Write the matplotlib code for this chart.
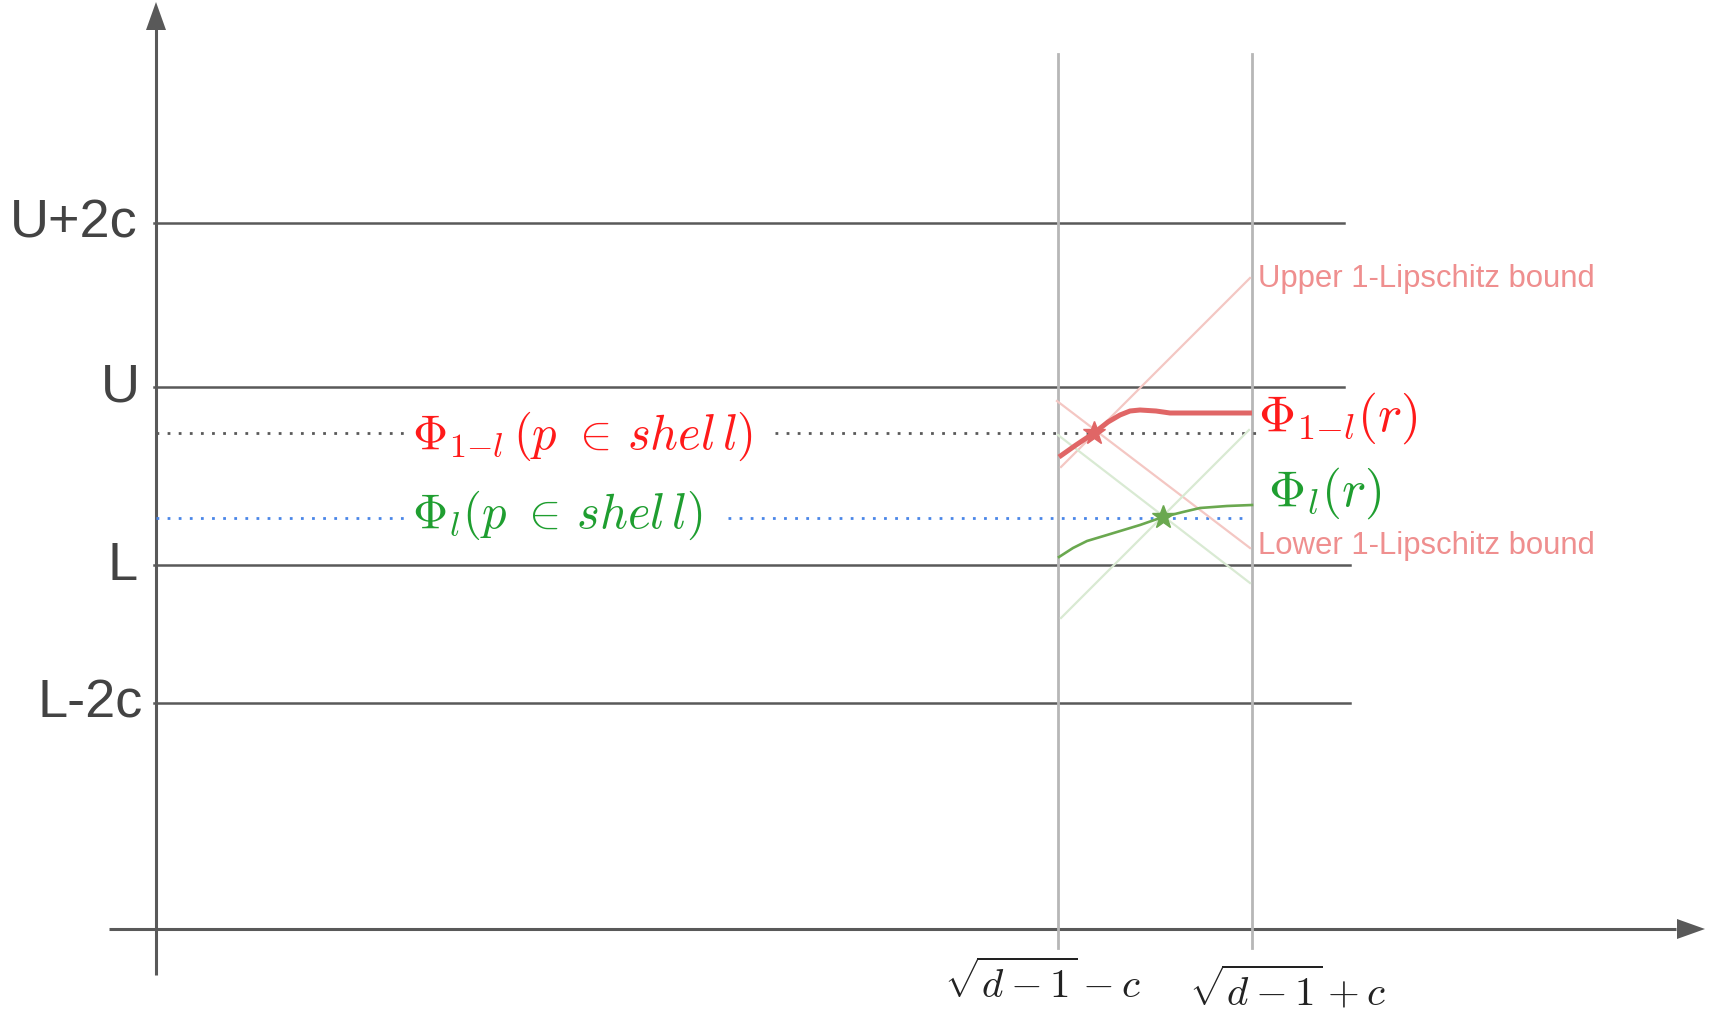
"""
Sketch of the shell-level bounds: Phi_{1-l}(r) and Phi_l(r) squeezed between
1-Lipschitz bounds on [sqrt(d-1)-c, sqrt(d-1)+c].
"""
import matplotlib.pyplot as plt
import numpy as np

# --- data (diagram units: origin at the axes crossing) ---
LEVEL_NAMES = ["U+2c", "U", "L", "L-2c"]
LEVEL_VALUES = [7.06, 5.42, 3.64, 2.26]
LEVEL_ENDS = [11.88, 11.88, 11.94, 11.94]

R_LO, R_HI = 9.02, 10.96          # sqrt(d-1) -/+ c
R_LABELS = [r"$\sqrt{d-1}-c$", r"$\sqrt{d-1}+c$"]

PHI_HI_SHELL = 4.96               # Phi_{1-l}(p in shell)
PHI_LO_SHELL = 4.11               # Phi_l(p in shell)

red_r = [9.03, 9.20, 9.38, 9.52, 9.64, 9.74, 9.84, 10.00, 10.14, 10.96]
red_phi = [4.72, 4.84, 4.96, 5.07, 5.14, 5.18, 5.19, 5.18, 5.16, 5.16]

green_r = [9.03, 9.17, 9.31, 9.51, 9.84, 10.07, 10.27, 10.44, 10.71, 10.96]
green_phi = [3.72, 3.81, 3.88, 3.94, 4.04, 4.12, 4.17, 4.21, 4.23, 4.24]

# 1-Lipschitz bound segments through the star points
red_upper = ([9.05, 10.94], [4.62, 6.51])
red_lower = ([9.01, 10.94], [5.28, 3.81])
green_down = ([9.02, 10.94], [4.94, 3.46])
green_up = ([9.05, 10.93], [3.11, 4.99])

red_star = (9.38, 4.96)
green_star = (10.07, 4.12)

AXIS = "#595959"
TXT = "#434343"
RED_TXT = "#ff1a1a"
GREEN_TXT = "#1f9e30"

plt.rcParams["mathtext.fontset"] = "cm"
fig = plt.figure(figsize=(17.12, 10.10), dpi=100)
ax = fig.add_axes([0, 0, 1, 1])
ax.set_xlim(-1.56, 15.56)
ax.set_ylim(-0.81, 9.29)
ax.axis("off")

# axes with arrow heads
ax.plot([0, 0], [-0.46, 9.0], color=AXIS, lw=2.2, solid_capstyle="butt")
ax.plot([-0.47, 15.2], [0, 0], color=AXIS, lw=2.2, solid_capstyle="butt")
ax.fill([-0.10, 0.10, 0], [8.99, 8.99, 9.27], color=AXIS, lw=0)
ax.fill([15.21, 15.21, 15.49], [0.10, -0.10, 0], color=AXIS, lw=0)

# level lines + labels
for name, v, end, lx in zip(LEVEL_NAMES, LEVEL_VALUES, LEVEL_ENDS,
                            [-0.19, -0.16, -0.18, -0.13]):
    ax.plot([-0.02, end], [v, v], color=AXIS, lw=1.8)
    ax.text(lx, v - 0.01, name, ha="right", va="center", fontsize=39,
            color=TXT, family="Liberation Sans")

# vertical r lines + tick labels
for r, lab, cx, cy in zip([R_LO, R_HI], R_LABELS, [8.86, 11.31], [-0.55, -0.61]):
    ax.plot([r, r], [-0.19, 8.75], color="#b7b7b7", lw=2)
    ax.text(cx, cy, lab, ha="center", va="center", fontsize=29.5,
            color="#222222")

# dotted shell levels, broken around their labels
dot = (0, (1, 3))
ax.plot([0, 2.50], [PHI_HI_SHELL] * 2, color=AXIS, lw=2, ls=dot)
ax.plot([6.19, 11.02], [PHI_HI_SHELL] * 2, color=AXIS, lw=2, ls=dot)
ax.plot([0, 2.50], [PHI_LO_SHELL] * 2, color="#4a86e8", lw=2, ls=dot)
ax.plot([5.72, 10.91], [PHI_LO_SHELL] * 2, color="#4a86e8", lw=2, ls=dot)

ax.text(2.56, 4.93, r"$\Phi_{1{-}l}\,(p\ \in\, shel\,l)$", ha="left",
        va="center", fontsize=35, color=RED_TXT)
ax.text(2.56, 4.14, r"$\Phi_{l}(p\ \in\, shel\,l)$", ha="left", va="center",
        fontsize=35, color=GREEN_TXT)

# Lipschitz bounds
ax.plot(*red_upper, color="#f4c7c3", lw=1.6)
ax.plot(*red_lower, color="#f4c7c3", lw=1.6)
ax.plot(*green_down, color="#d9ead3", lw=1.6)
ax.plot(*green_up, color="#d9ead3", lw=1.6)

# the two curves
ax.plot(red_r, red_phi, color="#e06666", lw=3.6, solid_capstyle="butt")
ax.plot(green_r, green_phi, color="#6aa84f", lw=1.9)
ax.plot(*red_star, marker="*", ms=17, color="#e06666", mec="#e06666")
ax.plot(*green_star, marker="*", ms=17, color="#6aa84f", mec="#6aa84f")

ax.text(11.02, 5.11, r"$\Phi_{1{-}l}(r)$", ha="left", va="center",
        fontsize=37, color=RED_TXT)
ax.text(11.12, 4.36, r"$\Phi_{l}(r)$", ha="left", va="center",
        fontsize=37, color=GREEN_TXT)

ax.text(11.02, 6.50, "Upper 1-Lipschitz bound", ha="left", va="center",
        fontsize=22.4, color="#ef8f8f", family="Liberation Sans")
ax.text(11.02, 3.83, "Lower 1-Lipschitz bound", ha="left", va="center",
        fontsize=22.4, color="#ef8f8f", family="Liberation Sans")

fig.savefig("out.png", dpi=100)
